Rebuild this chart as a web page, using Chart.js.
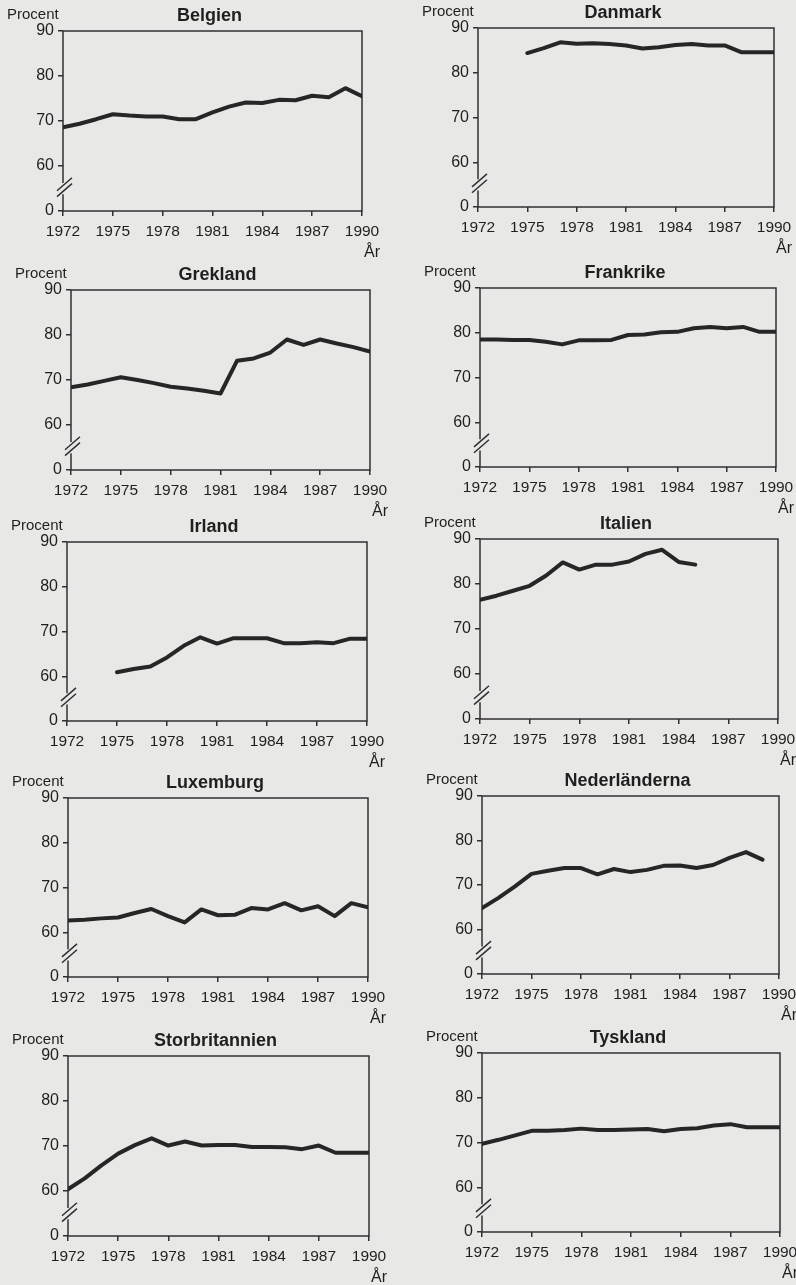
<!DOCTYPE html>
<html>
<head>
<meta charset="utf-8">
<script src="https://cdn.jsdelivr.net/npm/chart.js@4.4.1/dist/chart.umd.min.js"></script>
<style>
  body { margin: 0; background: #e8e8e6; width: 796px; height: 1285px; position: relative; overflow: hidden; }
  canvas { position: absolute; }
</style>
</head>
<body>
<script>
// years on the x axis and the labelled ticks
const years = [1972, 1973, 1974, 1975, 1976, 1977, 1978, 1979, 1980, 1981,
               1982, 1983, 1984, 1985, 1986, 1987, 1988, 1989, 1990];
const xTickYears = [1972, 1975, 1978, 1981, 1984, 1987, 1990];

// broken y axis: the bottom tick (drawn at 50) is labelled "0"
const yTickValues = [50, 60, 70, 80, 90];
const yTickLabels = ['0', '60', '70', '80', '90'];

// procent per year, null where there is no value
const belgien = [68.6, 69.4, 70.4, 71.5, 71.2, 71.0, 71.0, 70.4, 70.4, 71.9,
                 73.2, 74.1, 74.0, 74.7, 74.6, 75.6, 75.3, 77.3, 75.5];
const danmark = [null, null, null, 84.4, 85.5, 86.8, 86.5, 86.6, 86.4, 86.1,
                 85.4, 85.7, 86.2, 86.4, 86.1, 86.1, 84.6, 84.6, 84.6];
const grekland = [68.4, 69.0, 69.8, 70.6, 70.0, 69.3, 68.5, 68.1, 67.6, 67.0,
                  74.3, 74.8, 76.1, 79.0, 77.8, 79.0, 78.1, 77.3, 76.3];
const frankrike = [78.5, 78.5, 78.4, 78.4, 78.0, 77.4, 78.3, 78.3, 78.4, 79.5,
                   79.6, 80.1, 80.2, 81.0, 81.3, 81.0, 81.3, 80.2, 80.2];
const irland = [null, null, null, 60.9, 61.6, 62.2, 64.2, 66.8, 68.7, 67.3,
                68.5, 68.5, 68.5, 67.4, 67.4, 67.6, 67.4, 68.4, 68.4];
const italien = [76.5, 77.4, 78.5, 79.6, 81.9, 84.8, 83.2, 84.3, 84.3, 85.0,
                 86.7, 87.6, 84.9, 84.3, null, null, null, null, null];
const luxemburg = [62.6, 62.8, 63.1, 63.3, 64.3, 65.2, 63.6, 62.2, 65.1, 63.8,
                   63.9, 65.4, 65.1, 66.5, 64.9, 65.8, 63.6, 66.5, 65.6];
const nederlanderna = [64.8, 67.1, 69.7, 72.5, 73.2, 73.8, 73.8, 72.4, 73.6, 72.9,
                       73.4, 74.3, 74.4, 73.8, 74.5, 76.1, 77.4, 75.7, null];
const storbritannien = [60.4, 62.8, 65.7, 68.3, 70.2, 71.7, 70.1, 71.0, 70.1, 70.2,
                        70.2, 69.8, 69.8, 69.7, 69.3, 70.1, 68.5, 68.5, 68.5];
const tyskland = [69.7, 70.6, 71.6, 72.6, 72.6, 72.8, 73.1, 72.8, 72.8, 72.9,
                  73.0, 72.5, 73.0, 73.2, 73.8, 74.1, 73.4, 73.4, 73.4];

// where each plot box sits on the page: [left, top, right, bottom]
const panels = [
  { title: 'Belgien', values: belgien, col: 0, box: [63, 31, 362, 211] },
  { title: 'Danmark', values: danmark, col: 1, box: [478, 28, 774, 207] },
  { title: 'Grekland', values: grekland, col: 0, box: [71, 290, 370, 470] },
  { title: 'Frankrike', values: frankrike, col: 1, box: [480, 288, 776, 467] },
  { title: 'Irland', values: irland, col: 0, box: [67, 542, 367, 721] },
  { title: 'Italien', values: italien, col: 1, box: [480, 539, 778, 719] },
  { title: 'Luxemburg', values: luxemburg, col: 0, box: [68, 798, 368, 977] },
  { title: 'Nederländerna', values: nederlanderna, col: 1, box: [482, 796, 779, 974] },
  { title: 'Storbritannien', values: storbritannien, col: 0, box: [68, 1056, 369, 1236] },
  { title: 'Tyskland', values: tyskland, col: 1, box: [482, 1053, 780, 1232] }
];

const FONT = '"Liberation Sans", Arial, Helvetica, sans-serif';
const INK = '#1f1f1f';
const AXIS = '#332e33';
const YW = 40, XH = 50, TOP = 34;

const decor = {
  id: 'decor',
  beforeDatasetsDraw(chart) {
    const { ctx, chartArea: a, scales: { y } } = chart;
    const gapTop = y.getPixelForValue(56.2);
    const gapBot = y.getPixelForValue(53.7);
    ctx.save();
    ctx.strokeStyle = AXIS;
    ctx.lineWidth = 1.5;
    ctx.beginPath();
    ctx.moveTo(a.left, gapTop);
    ctx.lineTo(a.left, a.top);
    ctx.lineTo(a.right, a.top);
    ctx.lineTo(a.right, a.bottom);
    ctx.lineTo(a.left, a.bottom);
    ctx.lineTo(a.left, gapBot);
    // the two slashes of the axis break
    [55.6, 54.3].forEach(v => {
      const yc = y.getPixelForValue(v);
      ctx.moveTo(a.left - 6, yc + 5);
      ctx.lineTo(a.left + 9, yc - 8);
    });
    ctx.stroke();
    ctx.restore();
  },
  afterDraw(chart) {
    const { ctx, chartArea: a } = chart;
    ctx.save();
    ctx.fillStyle = INK;
    ctx.textBaseline = 'middle';
    ctx.font = 'bold 18px ' + FONT;
    ctx.textAlign = 'center';
    ctx.fillText(chart.data.datasets[0].label, (a.left + a.right) / 2 - 3, a.top - 15);
    ctx.font = '15px ' + FONT;
    ctx.textAlign = 'left';
    ctx.fillText('Procent', a.left - 56, a.top - 16);
    ctx.font = '16px ' + FONT;
    ctx.textAlign = 'center';
    ctx.fillText('År', a.right + 10, a.bottom + 42);
    ctx.restore();
  }
};

panels.forEach(p => {
  const [L, T, R, B] = p.box;
  const cx = p.col ? 400 : 0;
  const cw = p.col ? 396 : 398;
  const cy = T - TOP;
  const ch = (B - T) + TOP + XH;

  const canvas = document.createElement('canvas');
  canvas.width = cw;
  canvas.height = ch;
  canvas.style.left = cx + 'px';
  canvas.style.top = cy + 'px';
  document.body.appendChild(canvas);

  new Chart(canvas, {
    type: 'line',
    data: {
      datasets: [{
        label: p.title,
        data: years.map((yr, i) => ({ x: yr, y: p.values[i] })),
        borderColor: '#262626',
        borderWidth: 4,
        borderJoinStyle: 'round',
        borderCapStyle: 'round',
        pointRadius: 0,
        tension: 0,
        fill: false,
        spanGaps: false
      }]
    },
    options: {
      responsive: false,
      animation: false,
      devicePixelRatio: 1,
      layout: { padding: { top: TOP, left: L - cx - YW, right: cx + cw - R, bottom: 0 } },
      plugins: { legend: { display: false }, tooltip: { enabled: false } },
      scales: {
        x: {
          type: 'linear',
          min: 1972,
          max: 1990,
          afterBuildTicks: s => { s.ticks = xTickYears.map(v => ({ value: v })); },
          afterFit: s => { s.height = XH; s.paddingLeft = 0; s.paddingRight = 0; },
          ticks: {
            autoSkip: false, maxRotation: 0, padding: 6, color: INK,
            font: { family: FONT, size: 15.5 },
            callback: v => String(v)
          },
          grid: { display: true, drawOnChartArea: false, drawTicks: true, tickLength: 5, color: AXIS, lineWidth: 1.5 },
          border: { display: false }
        },
        y: {
          min: 50,
          max: 90,
          afterBuildTicks: s => { s.ticks = yTickValues.map(v => ({ value: v })); },
          afterFit: s => { s.width = YW; s.paddingTop = 0; s.paddingBottom = 0; },
          ticks: {
            padding: 4, color: INK,
            font: { family: FONT, size: 16 },
            callback: v => yTickLabels[yTickValues.indexOf(v)]
          },
          grid: { display: true, drawOnChartArea: false, drawTicks: true, tickLength: 5, color: AXIS, lineWidth: 1.5 },
          border: { display: false }
        }
      }
    },
    plugins: [decor]
  });
});
</script>
</body>
</html>
